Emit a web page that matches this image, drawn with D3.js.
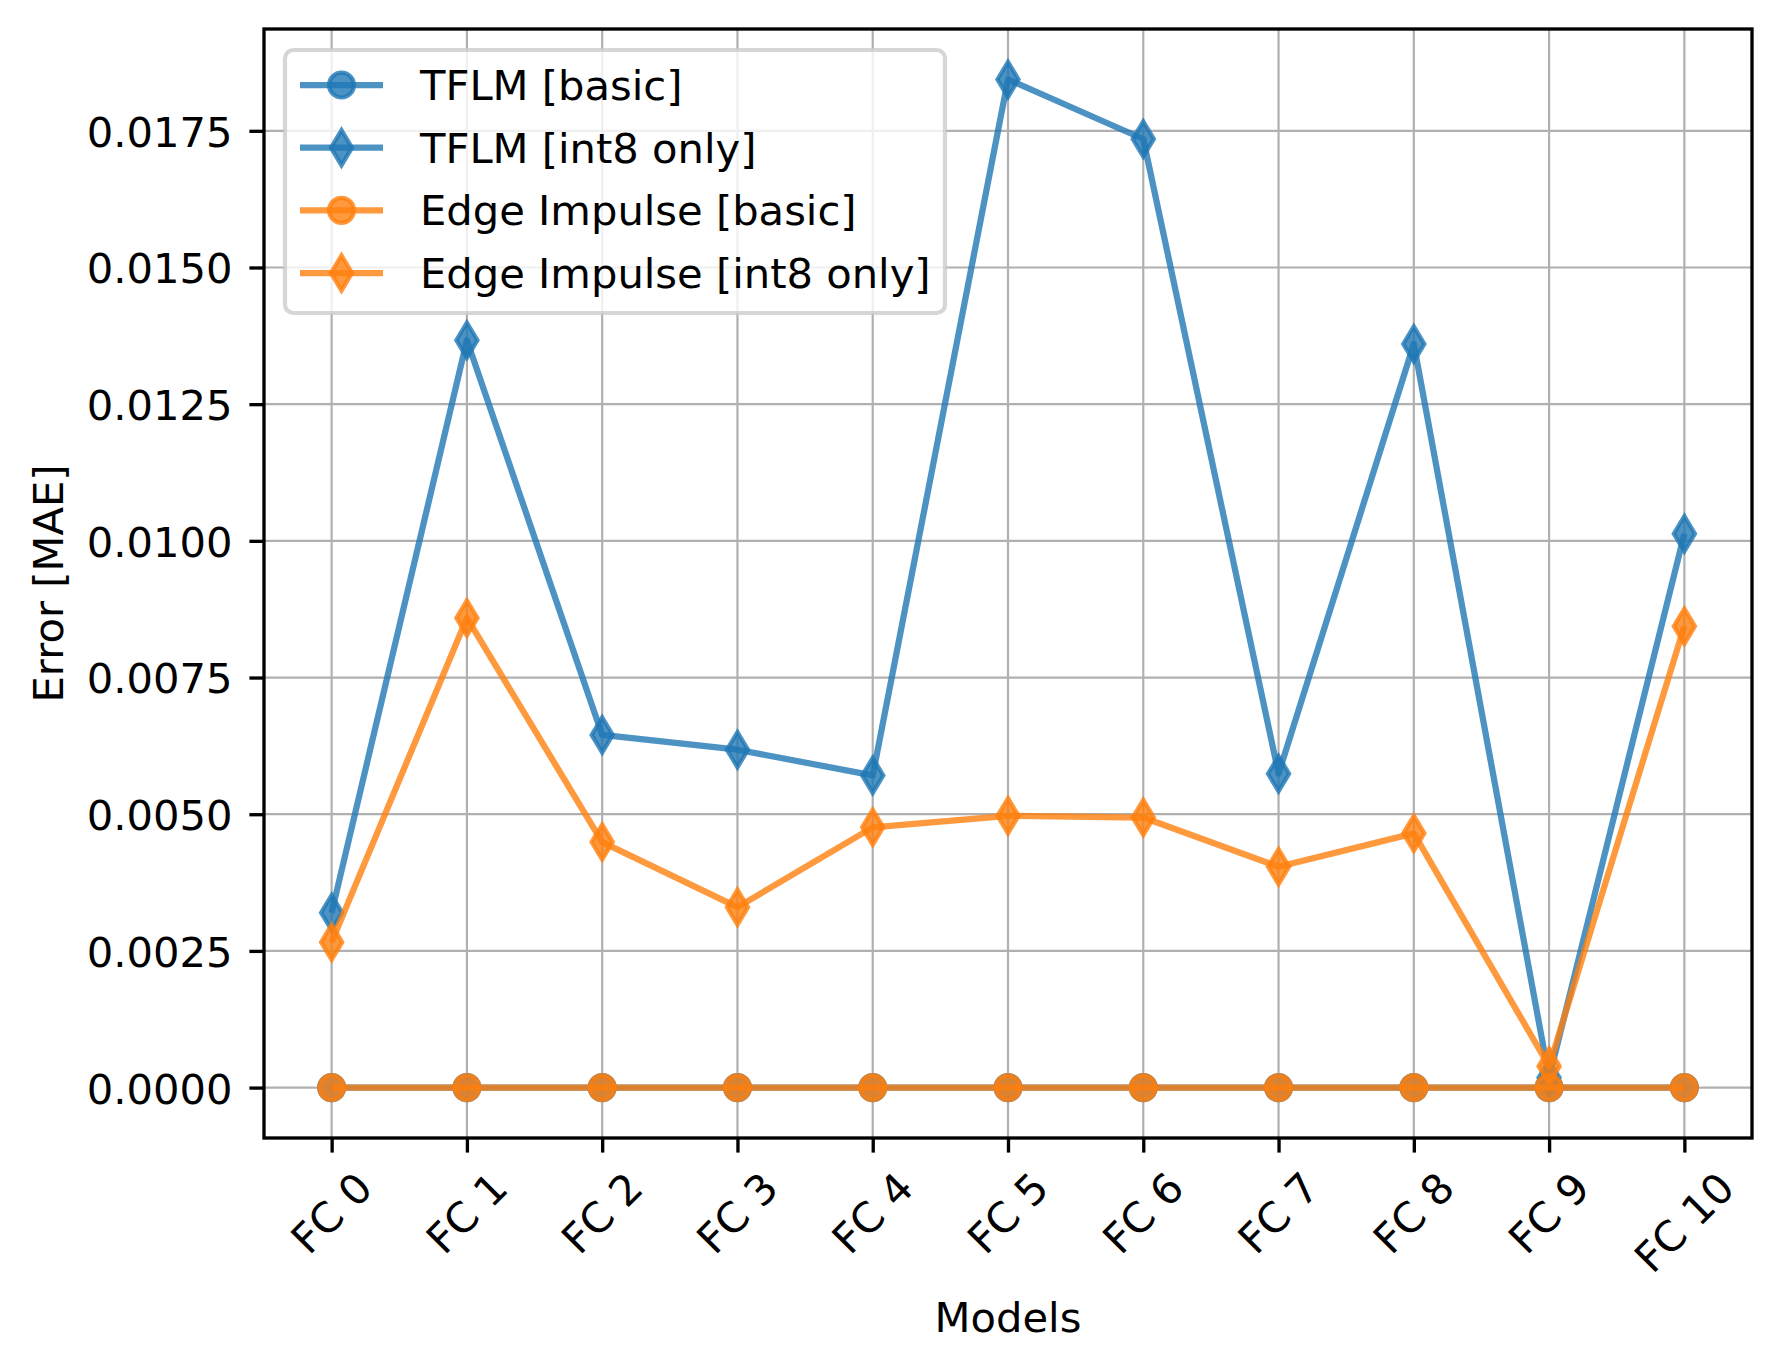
<!DOCTYPE html>
<html>
<head>
<meta charset="utf-8">
<script src="https://d3js.org/d3.v7.min.js"></script>
<style>
  body { margin: 0; background: #fff; }
  text { font-family: "DejaVu Sans", sans-serif; fill: #000; }
</style>
</head>
<body>
<script>

// values
var models = ["FC 0", "FC 1", "FC 2", "FC 3", "FC 4", "FC 5", "FC 6", "FC 7", "FC 8", "FC 9", "FC 10"];
var tflmBasic = [0, 0, 0, 0, 0, 0, 0, 0, 0, 0, 0];
var tflmInt8 = [0.00320, 0.01367, 0.00645, 0.00618, 0.00571, 0.01844, 0.01735, 0.00574, 0.01360, 0.00018, 0.01013];
var eiBasic = [0, 0, 0, 0, 0, 0, 0, 0, 0, 0, 0];
var eiInt8 = [0.00266, 0.00859, 0.00449, 0.00330, 0.00476, 0.00497, 0.00494, 0.00404, 0.00465, 0.00039, 0.00844];
var yTicks = [0, 0.0025, 0.005, 0.0075, 0.01, 0.0125, 0.015, 0.0175];
var seriesNames = ["TFLM [basic]", "TFLM [int8 only]", "Edge Impulse [basic]", "Edge Impulse [int8 only]"];

var blue = "#1f77b4", orange = "#ff7f0e";
var series = [
  {name: seriesNames[0], values: tflmBasic, color: blue, marker: "o"},
  {name: seriesNames[1], values: tflmInt8, color: blue, marker: "d"},
  {name: seriesNames[2], values: eiBasic, color: orange, marker: "o"},
  {name: seriesNames[3], values: eiInt8, color: orange, marker: "d"}
];

var W = 1781, H = 1370;
var fs = 41.67;              // 10pt at 300 dpi
var lw = 6.25, mew = 4.17, ms = 25;
var alpha = 0.8;
var axL = 264, axR = 1752, axT = 29, axB = 1138;

var svg = d3.select("body").append("svg")
    .attr("width", W).attr("height", H);

// x: index positions with matplotlib's 5% margins
var x = d3.scaleLinear().domain([-0.5, models.length - 0.5]).range([axL, axR]);
var allVals = d3.merge(series.map(s => s.values));
var ext = d3.extent(allVals), pad = (ext[1] - ext[0]) * 0.05;
var y = d3.scaleLinear().domain([ext[0] - pad, ext[1] + pad]).range([axB, axT]);

// grid
var grid = svg.append("g").attr("stroke", "#b0b0b0").attr("stroke-width", 2.2);
grid.selectAll("line.gx").data(models).enter().append("line")
    .attr("x1", (d, i) => x(i)).attr("x2", (d, i) => x(i))
    .attr("y1", axT).attr("y2", axB);
grid.selectAll("line.gy").data(yTicks).enter().append("line")
    .attr("x1", axL).attr("x2", axR)
    .attr("y1", d => y(d)).attr("y2", d => y(d));

// diamond ('d') and circle ('o') marker paths
var dh = ms * Math.SQRT2 / 2, dw = dh * 0.6;
function markerPath(m) {
  if (m === "d") return "M0," + (-dh) + "L" + dw + ",0L0," + dh + "L" + (-dw) + ",0Z";
  var r = ms / 2;
  return "M" + r + ",0A" + r + "," + r + " 0 1,1 " + (-r) + ",0A" + r + "," + r + " 0 1,1 " + r + ",0Z";
}

var line = d3.line().x((d, i) => x(i)).y(d => y(d));

series.forEach(function(s) {
  var g = svg.append("g");
  g.append("path").attr("d", line(s.values))
      .attr("fill", "none").attr("stroke", s.color).attr("stroke-opacity", alpha)
      .attr("stroke-width", lw).attr("stroke-linejoin", "round");
  g.selectAll("path.m").data(s.values).enter().append("path")
      .attr("class", "m")
      .attr("transform", (d, i) => "translate(" + x(i) + "," + y(d) + ")")
      .attr("d", markerPath(s.marker))
      .attr("fill", s.color).attr("fill-opacity", alpha)
      .attr("stroke", s.color).attr("stroke-opacity", alpha).attr("stroke-width", mew);
});

// spines
svg.append("rect").attr("x", axL).attr("y", axT)
    .attr("width", axR - axL).attr("height", axB - axT)
    .attr("fill", "none").attr("stroke", "#000").attr("stroke-width", 3.33);

// y axis
var yAxis = svg.append("g").attr("transform", "translate(" + axL + ",0)")
    .call(d3.axisLeft(y).tickValues(yTicks).tickFormat(d3.format(".4f"))
      .tickSize(14.6).tickPadding(17));
yAxis.select(".domain").remove();
yAxis.selectAll(".tick line").attr("stroke", "#000").attr("stroke-width", 3.33);
yAxis.selectAll(".tick text").attr("font-size", fs).attr("dy", "0.37em")
    .style("font-family", "DejaVu Sans");

// x axis ticks
var xAxis = svg.append("g").attr("transform", "translate(0," + axB + ")")
    .call(d3.axisBottom(x).tickValues(d3.range(models.length)).tickFormat("").tickSize(14.6));
xAxis.select(".domain").remove();
xAxis.selectAll(".tick line").attr("stroke", "#000").attr("stroke-width", 3.33);

// rotated x tick labels (centred, top of rotated box below the tick)
var labTop = axB + 14.6 + 14.6, th = 1.164 * fs, s45 = Math.SQRT1_2;
models.forEach(function(m, i) {
  var g = svg.append("g");
  var t = g.append("text").attr("font-size", fs).attr("text-anchor", "middle")
      .attr("y", 0.346 * fs).text(m);
  var w = t.node().getComputedTextLength();
  var cy = labTop + (w + th) * s45 / 2 - 4;
  g.attr("transform", "translate(" + x(i) + "," + cy + ") rotate(-45)");
});

// axis titles
svg.append("text").attr("x", (axL + axR) / 2).attr("y", 1332)
    .attr("text-anchor", "middle").attr("font-size", fs).text("Models");
svg.append("text").attr("transform", "translate(62.5," + ((axT + axB) / 2) + ") rotate(-90)")
    .attr("text-anchor", "middle").attr("font-size", fs).text("Error [MAE]");

// legend
var lg = svg.append("g");
lg.append("rect").attr("x", 285).attr("y", 50).attr("width", 660).attr("height", 263)
    .attr("rx", 8.3).attr("ry", 8.3)
    .attr("fill", "#fff").attr("fill-opacity", 0.8)
    .attr("stroke", "#cccccc").attr("stroke-opacity", 0.8).attr("stroke-width", 4.17);
var rowY = d3.scalePoint().domain(seriesNames).range([85, 273]);
series.forEach(function(s) {
  var cy = rowY(s.name);
  lg.append("line").attr("x1", 300).attr("x2", 383).attr("y1", cy).attr("y2", cy)
      .attr("stroke", s.color).attr("stroke-opacity", alpha).attr("stroke-width", lw);
  lg.append("path").attr("transform", "translate(341.5," + cy + ")")
      .attr("d", markerPath(s.marker))
      .attr("fill", s.color).attr("fill-opacity", alpha)
      .attr("stroke", s.color).attr("stroke-opacity", alpha).attr("stroke-width", mew);
  lg.append("text").attr("x", 420).attr("y", cy + 15).attr("font-size", fs).text(s.name);
});

</script>
</body>
</html>
